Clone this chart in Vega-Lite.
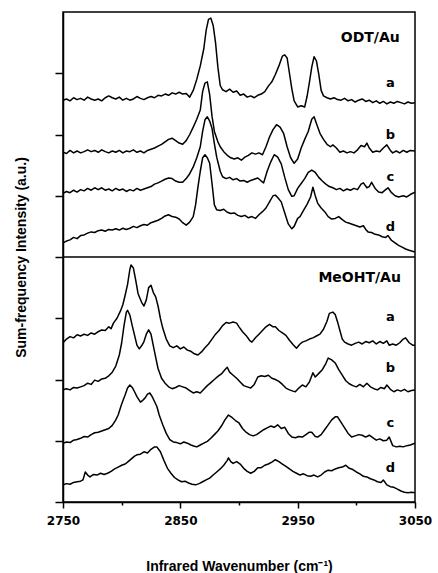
{
  "$schema": "https://vega.github.io/schema/vega-lite/v6.json",
  "width": 352,
  "height": 490,
  "autosize": "none",
  "padding": {"left": 63, "top": 12, "right": 23, "bottom": 71},
  "background": "white",
  "config": {
    "view": {"stroke": "black", "strokeWidth": 1.5},
    "axis": {"domainColor": "black", "tickColor": "black", "domainWidth": 1.5, "tickWidth": 1.5, "grid": false, "labelColor": "black", "titleColor": "black"}
  },
  "datasets": {
    "spectra": [
{"s":"Ta","w":2750,"v":6.56},{"s":"Ta","w":2753,"v":6.58},{"s":"Ta","w":2756,"v":6.55},{"s":"Ta","w":2759,"v":6.6},{"s":"Ta","w":2762,"v":6.57},{"s":"Ta","w":2765,"v":6.59},{"s":"Ta","w":2768,"v":6.56},{"s":"Ta","w":2771,"v":6.61},{"s":"Ta","w":2774,"v":6.58},{"s":"Ta","w":2777,"v":6.56},{"s":"Ta","w":2780,"v":6.58},{"s":"Ta","w":2783,"v":6.55},{"s":"Ta","w":2786,"v":6.6},{"s":"Ta","w":2789,"v":6.63},{"s":"Ta","w":2792,"v":6.6},{"s":"Ta","w":2795,"v":6.58},{"s":"Ta","w":2798,"v":6.61},{"s":"Ta","w":2801,"v":6.56},{"s":"Ta","w":2804,"v":6.59},{"s":"Ta","w":2807,"v":6.56},{"s":"Ta","w":2810,"v":6.58},{"s":"Ta","w":2813,"v":6.62},{"s":"Ta","w":2816,"v":6.59},{"s":"Ta","w":2819,"v":6.57},{"s":"Ta","w":2822,"v":6.6},{"s":"Ta","w":2825,"v":6.62},{"s":"Ta","w":2828,"v":6.6},{"s":"Ta","w":2831,"v":6.64},{"s":"Ta","w":2834,"v":6.63},{"s":"Ta","w":2837,"v":6.66},{"s":"Ta","w":2840,"v":6.64},{"s":"Ta","w":2843,"v":6.68},{"s":"Ta","w":2846,"v":6.66},{"s":"Ta","w":2849,"v":6.69},{"s":"Ta","w":2852,"v":6.66},{"s":"Ta","w":2855,"v":6.67},{"s":"Ta","w":2858,"v":6.61},{"s":"Ta","w":2861,"v":6.72},{"s":"Ta","w":2864,"v":6.9},{"s":"Ta","w":2867,"v":7.12},{"s":"Ta","w":2870,"v":7.4},{"s":"Ta","w":2872,"v":7.7},{"s":"Ta","w":2874,"v":7.88},{"s":"Ta","w":2876,"v":7.9},{"s":"Ta","w":2878,"v":7.78},{"s":"Ta","w":2880,"v":7.5},{"s":"Ta","w":2882,"v":7.1},{"s":"Ta","w":2884,"v":6.8},{"s":"Ta","w":2886,"v":6.73},{"s":"Ta","w":2889,"v":6.7},{"s":"Ta","w":2892,"v":6.74},{"s":"Ta","w":2895,"v":6.69},{"s":"Ta","w":2898,"v":6.71},{"s":"Ta","w":2901,"v":6.64},{"s":"Ta","w":2904,"v":6.66},{"s":"Ta","w":2907,"v":6.61},{"s":"Ta","w":2910,"v":6.63},{"s":"Ta","w":2913,"v":6.6},{"s":"Ta","w":2916,"v":6.64},{"s":"Ta","w":2919,"v":6.66},{"s":"Ta","w":2922,"v":6.7},{"s":"Ta","w":2925,"v":6.79},{"s":"Ta","w":2928,"v":6.86},{"s":"Ta","w":2931,"v":6.98},{"s":"Ta","w":2934,"v":7.12},{"s":"Ta","w":2937,"v":7.28},{"s":"Ta","w":2939,"v":7.3},{"s":"Ta","w":2941,"v":7.25},{"s":"Ta","w":2943,"v":7.0},{"s":"Ta","w":2945,"v":6.75},{"s":"Ta","w":2947,"v":6.55},{"s":"Ta","w":2950,"v":6.45},{"s":"Ta","w":2953,"v":6.47},{"s":"Ta","w":2956,"v":6.45},{"s":"Ta","w":2958,"v":6.62},{"s":"Ta","w":2960,"v":6.85},{"s":"Ta","w":2962,"v":7.1},{"s":"Ta","w":2964,"v":7.27},{"s":"Ta","w":2966,"v":7.2},{"s":"Ta","w":2968,"v":6.98},{"s":"Ta","w":2970,"v":6.72},{"s":"Ta","w":2972,"v":6.63},{"s":"Ta","w":2975,"v":6.6},{"s":"Ta","w":2978,"v":6.58},{"s":"Ta","w":2981,"v":6.6},{"s":"Ta","w":2984,"v":6.57},{"s":"Ta","w":2987,"v":6.56},{"s":"Ta","w":2990,"v":6.59},{"s":"Ta","w":2993,"v":6.55},{"s":"Ta","w":2996,"v":6.57},{"s":"Ta","w":2999,"v":6.53},{"s":"Ta","w":3002,"v":6.56},{"s":"Ta","w":3005,"v":6.58},{"s":"Ta","w":3008,"v":6.54},{"s":"Ta","w":3011,"v":6.56},{"s":"Ta","w":3014,"v":6.52},{"s":"Ta","w":3017,"v":6.55},{"s":"Ta","w":3020,"v":6.51},{"s":"Ta","w":3023,"v":6.54},{"s":"Ta","w":3026,"v":6.5},{"s":"Ta","w":3029,"v":6.53},{"s":"Ta","w":3032,"v":6.51},{"s":"Ta","w":3035,"v":6.54},{"s":"Ta","w":3038,"v":6.52},{"s":"Ta","w":3041,"v":6.5},{"s":"Ta","w":3044,"v":6.53},{"s":"Ta","w":3047,"v":6.51},{"s":"Ta","w":3050,"v":6.52},
{"s":"Tb","w":2750,"v":5.71},{"s":"Tb","w":2753,"v":5.69},{"s":"Tb","w":2756,"v":5.74},{"s":"Tb","w":2759,"v":5.7},{"s":"Tb","w":2762,"v":5.73},{"s":"Tb","w":2765,"v":5.7},{"s":"Tb","w":2768,"v":5.72},{"s":"Tb","w":2771,"v":5.75},{"s":"Tb","w":2774,"v":5.72},{"s":"Tb","w":2777,"v":5.74},{"s":"Tb","w":2780,"v":5.71},{"s":"Tb","w":2783,"v":5.75},{"s":"Tb","w":2786,"v":5.72},{"s":"Tb","w":2789,"v":5.7},{"s":"Tb","w":2792,"v":5.73},{"s":"Tb","w":2795,"v":5.71},{"s":"Tb","w":2798,"v":5.74},{"s":"Tb","w":2801,"v":5.7},{"s":"Tb","w":2804,"v":5.73},{"s":"Tb","w":2807,"v":5.72},{"s":"Tb","w":2810,"v":5.75},{"s":"Tb","w":2813,"v":5.71},{"s":"Tb","w":2816,"v":5.73},{"s":"Tb","w":2819,"v":5.7},{"s":"Tb","w":2822,"v":5.74},{"s":"Tb","w":2825,"v":5.76},{"s":"Tb","w":2828,"v":5.78},{"s":"Tb","w":2831,"v":5.81},{"s":"Tb","w":2834,"v":5.84},{"s":"Tb","w":2837,"v":5.88},{"s":"Tb","w":2840,"v":5.92},{"s":"Tb","w":2843,"v":5.94},{"s":"Tb","w":2846,"v":5.9},{"s":"Tb","w":2849,"v":5.86},{"s":"Tb","w":2852,"v":5.84},{"s":"Tb","w":2855,"v":5.9},{"s":"Tb","w":2858,"v":6.0},{"s":"Tb","w":2861,"v":6.12},{"s":"Tb","w":2864,"v":6.25},{"s":"Tb","w":2867,"v":6.4},{"s":"Tb","w":2869,"v":6.7},{"s":"Tb","w":2871,"v":6.84},{"s":"Tb","w":2873,"v":6.86},{"s":"Tb","w":2875,"v":6.65},{"s":"Tb","w":2877,"v":6.3},{"s":"Tb","w":2879,"v":6.05},{"s":"Tb","w":2882,"v":5.88},{"s":"Tb","w":2884,"v":5.8},{"s":"Tb","w":2887,"v":5.72},{"s":"Tb","w":2890,"v":5.66},{"s":"Tb","w":2893,"v":5.62},{"s":"Tb","w":2896,"v":5.6},{"s":"Tb","w":2899,"v":5.62},{"s":"Tb","w":2902,"v":5.58},{"s":"Tb","w":2905,"v":5.63},{"s":"Tb","w":2908,"v":5.66},{"s":"Tb","w":2911,"v":5.7},{"s":"Tb","w":2914,"v":5.68},{"s":"Tb","w":2917,"v":5.7},{"s":"Tb","w":2920,"v":5.67},{"s":"Tb","w":2923,"v":5.8},{"s":"Tb","w":2926,"v":5.96},{"s":"Tb","w":2929,"v":6.08},{"s":"Tb","w":2932,"v":6.16},{"s":"Tb","w":2935,"v":6.12},{"s":"Tb","w":2938,"v":6.02},{"s":"Tb","w":2941,"v":5.8},{"s":"Tb","w":2944,"v":5.62},{"s":"Tb","w":2947,"v":5.53},{"s":"Tb","w":2950,"v":5.6},{"s":"Tb","w":2953,"v":5.78},{"s":"Tb","w":2956,"v":5.92},{"s":"Tb","w":2959,"v":6.05},{"s":"Tb","w":2962,"v":6.25},{"s":"Tb","w":2964,"v":6.29},{"s":"Tb","w":2966,"v":6.18},{"s":"Tb","w":2969,"v":6.02},{"s":"Tb","w":2972,"v":5.92},{"s":"Tb","w":2975,"v":5.84},{"s":"Tb","w":2978,"v":5.8},{"s":"Tb","w":2980,"v":5.83},{"s":"Tb","w":2983,"v":5.78},{"s":"Tb","w":2986,"v":5.71},{"s":"Tb","w":2989,"v":5.73},{"s":"Tb","w":2992,"v":5.7},{"s":"Tb","w":2995,"v":5.72},{"s":"Tb","w":2998,"v":5.7},{"s":"Tb","w":3001,"v":5.75},{"s":"Tb","w":3004,"v":5.82},{"s":"Tb","w":3007,"v":5.8},{"s":"Tb","w":3009,"v":5.86},{"s":"Tb","w":3011,"v":5.78},{"s":"Tb","w":3014,"v":5.71},{"s":"Tb","w":3017,"v":5.73},{"s":"Tb","w":3020,"v":5.72},{"s":"Tb","w":3023,"v":5.78},{"s":"Tb","w":3026,"v":5.83},{"s":"Tb","w":3029,"v":5.74},{"s":"Tb","w":3031,"v":5.7},{"s":"Tb","w":3034,"v":5.73},{"s":"Tb","w":3037,"v":5.7},{"s":"Tb","w":3040,"v":5.74},{"s":"Tb","w":3043,"v":5.71},{"s":"Tb","w":3046,"v":5.74},{"s":"Tb","w":3050,"v":5.73},
{"s":"Tc","w":2750,"v":5.04},{"s":"Tc","w":2753,"v":5.07},{"s":"Tc","w":2756,"v":5.05},{"s":"Tc","w":2759,"v":5.09},{"s":"Tc","w":2762,"v":5.06},{"s":"Tc","w":2765,"v":5.1},{"s":"Tc","w":2768,"v":5.08},{"s":"Tc","w":2771,"v":5.12},{"s":"Tc","w":2774,"v":5.09},{"s":"Tc","w":2777,"v":5.13},{"s":"Tc","w":2780,"v":5.1},{"s":"Tc","w":2783,"v":5.13},{"s":"Tc","w":2786,"v":5.09},{"s":"Tc","w":2789,"v":5.11},{"s":"Tc","w":2792,"v":5.08},{"s":"Tc","w":2795,"v":5.12},{"s":"Tc","w":2798,"v":5.09},{"s":"Tc","w":2801,"v":5.11},{"s":"Tc","w":2804,"v":5.07},{"s":"Tc","w":2807,"v":5.1},{"s":"Tc","w":2810,"v":5.08},{"s":"Tc","w":2813,"v":5.12},{"s":"Tc","w":2816,"v":5.09},{"s":"Tc","w":2819,"v":5.11},{"s":"Tc","w":2822,"v":5.13},{"s":"Tc","w":2825,"v":5.15},{"s":"Tc","w":2828,"v":5.19},{"s":"Tc","w":2831,"v":5.21},{"s":"Tc","w":2834,"v":5.24},{"s":"Tc","w":2837,"v":5.27},{"s":"Tc","w":2840,"v":5.29},{"s":"Tc","w":2843,"v":5.28},{"s":"Tc","w":2846,"v":5.24},{"s":"Tc","w":2849,"v":5.22},{"s":"Tc","w":2852,"v":5.22},{"s":"Tc","w":2855,"v":5.28},{"s":"Tc","w":2858,"v":5.36},{"s":"Tc","w":2861,"v":5.47},{"s":"Tc","w":2864,"v":5.62},{"s":"Tc","w":2867,"v":5.8},{"s":"Tc","w":2869,"v":6.05},{"s":"Tc","w":2871,"v":6.24},{"s":"Tc","w":2873,"v":6.29},{"s":"Tc","w":2875,"v":6.22},{"s":"Tc","w":2877,"v":6.1},{"s":"Tc","w":2879,"v":5.85},{"s":"Tc","w":2881,"v":5.63},{"s":"Tc","w":2884,"v":5.4},{"s":"Tc","w":2886,"v":5.31},{"s":"Tc","w":2889,"v":5.28},{"s":"Tc","w":2892,"v":5.3},{"s":"Tc","w":2895,"v":5.26},{"s":"Tc","w":2898,"v":5.28},{"s":"Tc","w":2901,"v":5.24},{"s":"Tc","w":2904,"v":5.25},{"s":"Tc","w":2907,"v":5.22},{"s":"Tc","w":2910,"v":5.25},{"s":"Tc","w":2913,"v":5.27},{"s":"Tc","w":2916,"v":5.29},{"s":"Tc","w":2919,"v":5.24},{"s":"Tc","w":2921,"v":5.21},{"s":"Tc","w":2924,"v":5.4},{"s":"Tc","w":2927,"v":5.55},{"s":"Tc","w":2930,"v":5.67},{"s":"Tc","w":2933,"v":5.63},{"s":"Tc","w":2936,"v":5.52},{"s":"Tc","w":2939,"v":5.3},{"s":"Tc","w":2942,"v":5.1},{"s":"Tc","w":2945,"v":4.99},{"s":"Tc","w":2947,"v":5.0},{"s":"Tc","w":2950,"v":5.12},{"s":"Tc","w":2953,"v":5.2},{"s":"Tc","w":2956,"v":5.28},{"s":"Tc","w":2959,"v":5.38},{"s":"Tc","w":2962,"v":5.42},{"s":"Tc","w":2965,"v":5.38},{"s":"Tc","w":2968,"v":5.3},{"s":"Tc","w":2971,"v":5.24},{"s":"Tc","w":2974,"v":5.19},{"s":"Tc","w":2977,"v":5.15},{"s":"Tc","w":2980,"v":5.13},{"s":"Tc","w":2983,"v":5.1},{"s":"Tc","w":2986,"v":5.12},{"s":"Tc","w":2989,"v":5.08},{"s":"Tc","w":2992,"v":5.11},{"s":"Tc","w":2995,"v":5.09},{"s":"Tc","w":2998,"v":5.12},{"s":"Tc","w":3001,"v":5.1},{"s":"Tc","w":3004,"v":5.19},{"s":"Tc","w":3006,"v":5.21},{"s":"Tc","w":3009,"v":5.13},{"s":"Tc","w":3011,"v":5.15},{"s":"Tc","w":3013,"v":5.22},{"s":"Tc","w":3016,"v":5.12},{"s":"Tc","w":3019,"v":5.06},{"s":"Tc","w":3022,"v":5.05},{"s":"Tc","w":3025,"v":5.1},{"s":"Tc","w":3027,"v":5.13},{"s":"Tc","w":3030,"v":5.05},{"s":"Tc","w":3033,"v":5.0},{"s":"Tc","w":3036,"v":4.98},{"s":"Tc","w":3040,"v":5.0},{"s":"Tc","w":3043,"v":4.98},{"s":"Tc","w":3046,"v":5.02},{"s":"Tc","w":3050,"v":5.06},
{"s":"Td","w":2750,"v":4.23},{"s":"Td","w":2753,"v":4.26},{"s":"Td","w":2756,"v":4.28},{"s":"Td","w":2759,"v":4.32},{"s":"Td","w":2762,"v":4.3},{"s":"Td","w":2765,"v":4.35},{"s":"Td","w":2768,"v":4.36},{"s":"Td","w":2771,"v":4.39},{"s":"Td","w":2774,"v":4.41},{"s":"Td","w":2777,"v":4.4},{"s":"Td","w":2780,"v":4.43},{"s":"Td","w":2783,"v":4.44},{"s":"Td","w":2786,"v":4.42},{"s":"Td","w":2789,"v":4.45},{"s":"Td","w":2792,"v":4.44},{"s":"Td","w":2795,"v":4.46},{"s":"Td","w":2798,"v":4.44},{"s":"Td","w":2801,"v":4.47},{"s":"Td","w":2804,"v":4.45},{"s":"Td","w":2807,"v":4.47},{"s":"Td","w":2810,"v":4.5},{"s":"Td","w":2813,"v":4.48},{"s":"Td","w":2816,"v":4.51},{"s":"Td","w":2819,"v":4.53},{"s":"Td","w":2822,"v":4.52},{"s":"Td","w":2825,"v":4.56},{"s":"Td","w":2828,"v":4.58},{"s":"Td","w":2831,"v":4.6},{"s":"Td","w":2834,"v":4.63},{"s":"Td","w":2837,"v":4.67},{"s":"Td","w":2840,"v":4.69},{"s":"Td","w":2843,"v":4.66},{"s":"Td","w":2846,"v":4.65},{"s":"Td","w":2849,"v":4.62},{"s":"Td","w":2852,"v":4.56},{"s":"Td","w":2855,"v":4.52},{"s":"Td","w":2858,"v":4.57},{"s":"Td","w":2861,"v":4.66},{"s":"Td","w":2863,"v":4.85},{"s":"Td","w":2865,"v":5.14},{"s":"Td","w":2867,"v":5.4},{"s":"Td","w":2869,"v":5.62},{"s":"Td","w":2871,"v":5.67},{"s":"Td","w":2873,"v":5.62},{"s":"Td","w":2875,"v":5.53},{"s":"Td","w":2877,"v":5.2},{"s":"Td","w":2879,"v":4.85},{"s":"Td","w":2881,"v":4.77},{"s":"Td","w":2884,"v":4.76},{"s":"Td","w":2887,"v":4.78},{"s":"Td","w":2890,"v":4.73},{"s":"Td","w":2893,"v":4.71},{"s":"Td","w":2896,"v":4.72},{"s":"Td","w":2899,"v":4.68},{"s":"Td","w":2902,"v":4.66},{"s":"Td","w":2905,"v":4.68},{"s":"Td","w":2908,"v":4.64},{"s":"Td","w":2911,"v":4.66},{"s":"Td","w":2914,"v":4.63},{"s":"Td","w":2917,"v":4.69},{"s":"Td","w":2920,"v":4.74},{"s":"Td","w":2923,"v":4.8},{"s":"Td","w":2926,"v":4.9},{"s":"Td","w":2929,"v":5.0},{"s":"Td","w":2931,"v":5.01},{"s":"Td","w":2933,"v":4.97},{"s":"Td","w":2936,"v":4.9},{"s":"Td","w":2939,"v":4.72},{"s":"Td","w":2942,"v":4.54},{"s":"Td","w":2945,"v":4.46},{"s":"Td","w":2947,"v":4.5},{"s":"Td","w":2950,"v":4.63},{"s":"Td","w":2952,"v":4.66},{"s":"Td","w":2955,"v":4.76},{"s":"Td","w":2958,"v":4.86},{"s":"Td","w":2961,"v":4.98},{"s":"Td","w":2963,"v":5.14},{"s":"Td","w":2965,"v":5.0},{"s":"Td","w":2967,"v":4.88},{"s":"Td","w":2970,"v":4.8},{"s":"Td","w":2973,"v":4.74},{"s":"Td","w":2976,"v":4.66},{"s":"Td","w":2979,"v":4.62},{"s":"Td","w":2982,"v":4.63},{"s":"Td","w":2985,"v":4.66},{"s":"Td","w":2988,"v":4.61},{"s":"Td","w":2991,"v":4.57},{"s":"Td","w":2994,"v":4.55},{"s":"Td","w":2997,"v":4.53},{"s":"Td","w":3000,"v":4.51},{"s":"Td","w":3003,"v":4.49},{"s":"Td","w":3006,"v":4.51},{"s":"Td","w":3008,"v":4.45},{"s":"Td","w":3010,"v":4.41},{"s":"Td","w":3013,"v":4.4},{"s":"Td","w":3016,"v":4.37},{"s":"Td","w":3019,"v":4.36},{"s":"Td","w":3022,"v":4.33},{"s":"Td","w":3025,"v":4.32},{"s":"Td","w":3027,"v":4.35},{"s":"Td","w":3030,"v":4.27},{"s":"Td","w":3033,"v":4.23},{"s":"Td","w":3036,"v":4.19},{"s":"Td","w":3039,"v":4.16},{"s":"Td","w":3042,"v":4.13},{"s":"Td","w":3045,"v":4.11},{"s":"Td","w":3050,"v":4.08},
{"s":"Ma","w":2750,"v":2.6},{"s":"Ma","w":2753,"v":2.66},{"s":"Ma","w":2756,"v":2.7},{"s":"Ma","w":2759,"v":2.68},{"s":"Ma","w":2762,"v":2.73},{"s":"Ma","w":2765,"v":2.71},{"s":"Ma","w":2768,"v":2.74},{"s":"Ma","w":2771,"v":2.72},{"s":"Ma","w":2774,"v":2.76},{"s":"Ma","w":2777,"v":2.74},{"s":"Ma","w":2780,"v":2.78},{"s":"Ma","w":2783,"v":2.81},{"s":"Ma","w":2786,"v":2.8},{"s":"Ma","w":2789,"v":2.86},{"s":"Ma","w":2791,"v":2.83},{"s":"Ma","w":2793,"v":2.92},{"s":"Ma","w":2796,"v":3.0},{"s":"Ma","w":2799,"v":3.12},{"s":"Ma","w":2801,"v":3.22},{"s":"Ma","w":2803,"v":3.38},{"s":"Ma","w":2805,"v":3.55},{"s":"Ma","w":2807,"v":3.8},{"s":"Ma","w":2808,"v":3.87},{"s":"Ma","w":2810,"v":3.82},{"s":"Ma","w":2812,"v":3.62},{"s":"Ma","w":2814,"v":3.4},{"s":"Ma","w":2817,"v":3.26},{"s":"Ma","w":2819,"v":3.2},{"s":"Ma","w":2821,"v":3.3},{"s":"Ma","w":2823,"v":3.5},{"s":"Ma","w":2825,"v":3.54},{"s":"Ma","w":2827,"v":3.42},{"s":"Ma","w":2829,"v":3.35},{"s":"Ma","w":2831,"v":3.2},{"s":"Ma","w":2833,"v":3.0},{"s":"Ma","w":2835,"v":2.84},{"s":"Ma","w":2838,"v":2.66},{"s":"Ma","w":2841,"v":2.55},{"s":"Ma","w":2844,"v":2.52},{"s":"Ma","w":2847,"v":2.55},{"s":"Ma","w":2850,"v":2.5},{"s":"Ma","w":2853,"v":2.53},{"s":"Ma","w":2856,"v":2.48},{"s":"Ma","w":2859,"v":2.46},{"s":"Ma","w":2862,"v":2.42},{"s":"Ma","w":2865,"v":2.4},{"s":"Ma","w":2868,"v":2.45},{"s":"Ma","w":2871,"v":2.52},{"s":"Ma","w":2874,"v":2.58},{"s":"Ma","w":2877,"v":2.66},{"s":"Ma","w":2880,"v":2.74},{"s":"Ma","w":2883,"v":2.8},{"s":"Ma","w":2886,"v":2.88},{"s":"Ma","w":2889,"v":2.93},{"s":"Ma","w":2892,"v":2.92},{"s":"Ma","w":2895,"v":2.94},{"s":"Ma","w":2898,"v":2.92},{"s":"Ma","w":2900,"v":2.86},{"s":"Ma","w":2903,"v":2.78},{"s":"Ma","w":2906,"v":2.72},{"s":"Ma","w":2909,"v":2.64},{"s":"Ma","w":2911,"v":2.61},{"s":"Ma","w":2914,"v":2.68},{"s":"Ma","w":2917,"v":2.74},{"s":"Ma","w":2920,"v":2.8},{"s":"Ma","w":2923,"v":2.86},{"s":"Ma","w":2926,"v":2.9},{"s":"Ma","w":2929,"v":2.86},{"s":"Ma","w":2931,"v":2.86},{"s":"Ma","w":2934,"v":2.8},{"s":"Ma","w":2937,"v":2.76},{"s":"Ma","w":2940,"v":2.72},{"s":"Ma","w":2943,"v":2.64},{"s":"Ma","w":2946,"v":2.57},{"s":"Ma","w":2949,"v":2.51},{"s":"Ma","w":2952,"v":2.58},{"s":"Ma","w":2954,"v":2.61},{"s":"Ma","w":2957,"v":2.63},{"s":"Ma","w":2960,"v":2.66},{"s":"Ma","w":2963,"v":2.68},{"s":"Ma","w":2966,"v":2.71},{"s":"Ma","w":2969,"v":2.74},{"s":"Ma","w":2972,"v":2.82},{"s":"Ma","w":2975,"v":2.95},{"s":"Ma","w":2977,"v":3.08},{"s":"Ma","w":2980,"v":3.1},{"s":"Ma","w":2982,"v":3.06},{"s":"Ma","w":2984,"v":2.94},{"s":"Ma","w":2986,"v":2.8},{"s":"Ma","w":2988,"v":2.66},{"s":"Ma","w":2990,"v":2.61},{"s":"Ma","w":2993,"v":2.58},{"s":"Ma","w":2996,"v":2.56},{"s":"Ma","w":2999,"v":2.59},{"s":"Ma","w":3002,"v":2.61},{"s":"Ma","w":3005,"v":2.58},{"s":"Ma","w":3008,"v":2.62},{"s":"Ma","w":3011,"v":2.6},{"s":"Ma","w":3014,"v":2.63},{"s":"Ma","w":3017,"v":2.58},{"s":"Ma","w":3020,"v":2.62},{"s":"Ma","w":3023,"v":2.59},{"s":"Ma","w":3026,"v":2.63},{"s":"Ma","w":3028,"v":2.56},{"s":"Ma","w":3031,"v":2.58},{"s":"Ma","w":3034,"v":2.56},{"s":"Ma","w":3037,"v":2.6},{"s":"Ma","w":3040,"v":2.66},{"s":"Ma","w":3042,"v":2.68},{"s":"Ma","w":3045,"v":2.6},{"s":"Ma","w":3048,"v":2.56},{"s":"Ma","w":3050,"v":2.56},
{"s":"Mb","w":2750,"v":1.83},{"s":"Mb","w":2753,"v":1.85},{"s":"Mb","w":2756,"v":1.83},{"s":"Mb","w":2759,"v":1.87},{"s":"Mb","w":2762,"v":1.86},{"s":"Mb","w":2765,"v":1.88},{"s":"Mb","w":2768,"v":1.9},{"s":"Mb","w":2771,"v":1.94},{"s":"Mb","w":2774,"v":1.92},{"s":"Mb","w":2777,"v":1.99},{"s":"Mb","w":2780,"v":1.97},{"s":"Mb","w":2783,"v":2.01},{"s":"Mb","w":2786,"v":2.02},{"s":"Mb","w":2789,"v":2.06},{"s":"Mb","w":2792,"v":2.12},{"s":"Mb","w":2795,"v":2.22},{"s":"Mb","w":2798,"v":2.4},{"s":"Mb","w":2800,"v":2.6},{"s":"Mb","w":2802,"v":2.88},{"s":"Mb","w":2804,"v":3.1},{"s":"Mb","w":2805,"v":3.13},{"s":"Mb","w":2807,"v":3.05},{"s":"Mb","w":2809,"v":2.88},{"s":"Mb","w":2811,"v":2.72},{"s":"Mb","w":2813,"v":2.56},{"s":"Mb","w":2815,"v":2.5},{"s":"Mb","w":2817,"v":2.55},{"s":"Mb","w":2819,"v":2.62},{"s":"Mb","w":2821,"v":2.74},{"s":"Mb","w":2823,"v":2.81},{"s":"Mb","w":2825,"v":2.74},{"s":"Mb","w":2827,"v":2.55},{"s":"Mb","w":2829,"v":2.36},{"s":"Mb","w":2831,"v":2.18},{"s":"Mb","w":2834,"v":2.02},{"s":"Mb","w":2837,"v":1.94},{"s":"Mb","w":2840,"v":1.88},{"s":"Mb","w":2843,"v":1.85},{"s":"Mb","w":2846,"v":1.87},{"s":"Mb","w":2849,"v":1.9},{"s":"Mb","w":2852,"v":1.88},{"s":"Mb","w":2855,"v":1.86},{"s":"Mb","w":2858,"v":1.82},{"s":"Mb","w":2861,"v":1.78},{"s":"Mb","w":2864,"v":1.8},{"s":"Mb","w":2867,"v":1.78},{"s":"Mb","w":2870,"v":1.84},{"s":"Mb","w":2873,"v":1.9},{"s":"Mb","w":2876,"v":1.95},{"s":"Mb","w":2879,"v":2.0},{"s":"Mb","w":2882,"v":2.05},{"s":"Mb","w":2885,"v":2.09},{"s":"Mb","w":2888,"v":2.16},{"s":"Mb","w":2890,"v":2.2},{"s":"Mb","w":2892,"v":2.12},{"s":"Mb","w":2895,"v":2.07},{"s":"Mb","w":2898,"v":2.02},{"s":"Mb","w":2901,"v":1.96},{"s":"Mb","w":2904,"v":1.9},{"s":"Mb","w":2907,"v":1.88},{"s":"Mb","w":2910,"v":1.86},{"s":"Mb","w":2913,"v":1.92},{"s":"Mb","w":2916,"v":2.04},{"s":"Mb","w":2919,"v":2.06},{"s":"Mb","w":2922,"v":2.05},{"s":"Mb","w":2925,"v":2.07},{"s":"Mb","w":2928,"v":2.02},{"s":"Mb","w":2931,"v":2.0},{"s":"Mb","w":2934,"v":1.97},{"s":"Mb","w":2937,"v":1.92},{"s":"Mb","w":2940,"v":1.86},{"s":"Mb","w":2943,"v":1.83},{"s":"Mb","w":2946,"v":1.81},{"s":"Mb","w":2948,"v":1.8},{"s":"Mb","w":2951,"v":1.86},{"s":"Mb","w":2954,"v":1.91},{"s":"Mb","w":2957,"v":1.88},{"s":"Mb","w":2960,"v":1.96},{"s":"Mb","w":2963,"v":2.11},{"s":"Mb","w":2965,"v":2.04},{"s":"Mb","w":2968,"v":2.1},{"s":"Mb","w":2971,"v":2.16},{"s":"Mb","w":2974,"v":2.26},{"s":"Mb","w":2976,"v":2.35},{"s":"Mb","w":2979,"v":2.32},{"s":"Mb","w":2982,"v":2.27},{"s":"Mb","w":2985,"v":2.16},{"s":"Mb","w":2988,"v":2.07},{"s":"Mb","w":2991,"v":1.98},{"s":"Mb","w":2994,"v":1.93},{"s":"Mb","w":2997,"v":1.9},{"s":"Mb","w":3000,"v":1.88},{"s":"Mb","w":3003,"v":1.92},{"s":"Mb","w":3006,"v":1.88},{"s":"Mb","w":3009,"v":1.94},{"s":"Mb","w":3012,"v":1.88},{"s":"Mb","w":3015,"v":1.85},{"s":"Mb","w":3018,"v":1.83},{"s":"Mb","w":3021,"v":1.87},{"s":"Mb","w":3024,"v":1.85},{"s":"Mb","w":3026,"v":1.91},{"s":"Mb","w":3029,"v":1.84},{"s":"Mb","w":3032,"v":1.8},{"s":"Mb","w":3035,"v":1.83},{"s":"Mb","w":3038,"v":1.81},{"s":"Mb","w":3041,"v":1.84},{"s":"Mb","w":3044,"v":1.8},{"s":"Mb","w":3047,"v":1.82},{"s":"Mb","w":3050,"v":1.83},
{"s":"Mc","w":2750,"v":0.96},{"s":"Mc","w":2753,"v":0.98},{"s":"Mc","w":2756,"v":0.97},{"s":"Mc","w":2759,"v":1.01},{"s":"Mc","w":2762,"v":1.02},{"s":"Mc","w":2765,"v":1.04},{"s":"Mc","w":2768,"v":1.07},{"s":"Mc","w":2771,"v":1.06},{"s":"Mc","w":2774,"v":1.1},{"s":"Mc","w":2777,"v":1.13},{"s":"Mc","w":2780,"v":1.14},{"s":"Mc","w":2783,"v":1.16},{"s":"Mc","w":2786,"v":1.18},{"s":"Mc","w":2789,"v":1.2},{"s":"Mc","w":2792,"v":1.25},{"s":"Mc","w":2795,"v":1.34},{"s":"Mc","w":2797,"v":1.42},{"s":"Mc","w":2800,"v":1.6},{"s":"Mc","w":2803,"v":1.75},{"s":"Mc","w":2805,"v":1.86},{"s":"Mc","w":2807,"v":1.91},{"s":"Mc","w":2809,"v":1.87},{"s":"Mc","w":2811,"v":1.8},{"s":"Mc","w":2813,"v":1.72},{"s":"Mc","w":2816,"v":1.63},{"s":"Mc","w":2818,"v":1.66},{"s":"Mc","w":2820,"v":1.7},{"s":"Mc","w":2822,"v":1.76},{"s":"Mc","w":2824,"v":1.78},{"s":"Mc","w":2826,"v":1.72},{"s":"Mc","w":2828,"v":1.64},{"s":"Mc","w":2830,"v":1.56},{"s":"Mc","w":2832,"v":1.42},{"s":"Mc","w":2835,"v":1.26},{"s":"Mc","w":2838,"v":1.12},{"s":"Mc","w":2841,"v":1.02},{"s":"Mc","w":2844,"v":0.98},{"s":"Mc","w":2847,"v":0.97},{"s":"Mc","w":2850,"v":0.95},{"s":"Mc","w":2853,"v":0.98},{"s":"Mc","w":2856,"v":0.96},{"s":"Mc","w":2859,"v":0.93},{"s":"Mc","w":2862,"v":0.91},{"s":"Mc","w":2864,"v":0.9},{"s":"Mc","w":2867,"v":0.93},{"s":"Mc","w":2870,"v":0.96},{"s":"Mc","w":2873,"v":0.99},{"s":"Mc","w":2876,"v":1.04},{"s":"Mc","w":2879,"v":1.1},{"s":"Mc","w":2882,"v":1.16},{"s":"Mc","w":2885,"v":1.24},{"s":"Mc","w":2888,"v":1.34},{"s":"Mc","w":2891,"v":1.42},{"s":"Mc","w":2894,"v":1.38},{"s":"Mc","w":2897,"v":1.33},{"s":"Mc","w":2900,"v":1.29},{"s":"Mc","w":2903,"v":1.2},{"s":"Mc","w":2906,"v":1.14},{"s":"Mc","w":2909,"v":1.1},{"s":"Mc","w":2912,"v":1.08},{"s":"Mc","w":2915,"v":1.1},{"s":"Mc","w":2918,"v":1.14},{"s":"Mc","w":2921,"v":1.18},{"s":"Mc","w":2924,"v":1.21},{"s":"Mc","w":2927,"v":1.24},{"s":"Mc","w":2930,"v":1.22},{"s":"Mc","w":2933,"v":1.26},{"s":"Mc","w":2936,"v":1.2},{"s":"Mc","w":2939,"v":1.22},{"s":"Mc","w":2942,"v":1.12},{"s":"Mc","w":2945,"v":1.06},{"s":"Mc","w":2948,"v":1.05},{"s":"Mc","w":2951,"v":1.07},{"s":"Mc","w":2954,"v":1.06},{"s":"Mc","w":2957,"v":1.1},{"s":"Mc","w":2960,"v":1.14},{"s":"Mc","w":2962,"v":1.14},{"s":"Mc","w":2965,"v":1.07},{"s":"Mc","w":2967,"v":1.06},{"s":"Mc","w":2970,"v":1.1},{"s":"Mc","w":2973,"v":1.18},{"s":"Mc","w":2976,"v":1.26},{"s":"Mc","w":2979,"v":1.34},{"s":"Mc","w":2982,"v":1.39},{"s":"Mc","w":2984,"v":1.39},{"s":"Mc","w":2987,"v":1.3},{"s":"Mc","w":2990,"v":1.21},{"s":"Mc","w":2993,"v":1.12},{"s":"Mc","w":2996,"v":1.06},{"s":"Mc","w":2999,"v":1.08},{"s":"Mc","w":3002,"v":1.1},{"s":"Mc","w":3005,"v":1.09},{"s":"Mc","w":3008,"v":1.06},{"s":"Mc","w":3011,"v":1.09},{"s":"Mc","w":3014,"v":1.05},{"s":"Mc","w":3017,"v":1.01},{"s":"Mc","w":3020,"v":1.03},{"s":"Mc","w":3023,"v":1.0},{"s":"Mc","w":3026,"v":1.01},{"s":"Mc","w":3028,"v":1.06},{"s":"Mc","w":3031,"v":0.92},{"s":"Mc","w":3034,"v":0.9},{"s":"Mc","w":3037,"v":0.91},{"s":"Mc","w":3040,"v":0.9},{"s":"Mc","w":3043,"v":0.92},{"s":"Mc","w":3046,"v":0.93},{"s":"Mc","w":3050,"v":0.96},
{"s":"Md","w":2750,"v":0.28},{"s":"Md","w":2753,"v":0.3},{"s":"Md","w":2756,"v":0.29},{"s":"Md","w":2759,"v":0.32},{"s":"Md","w":2762,"v":0.33},{"s":"Md","w":2765,"v":0.34},{"s":"Md","w":2767,"v":0.36},{"s":"Md","w":2769,"v":0.49},{"s":"Md","w":2771,"v":0.44},{"s":"Md","w":2773,"v":0.41},{"s":"Md","w":2776,"v":0.45},{"s":"Md","w":2779,"v":0.44},{"s":"Md","w":2782,"v":0.47},{"s":"Md","w":2785,"v":0.45},{"s":"Md","w":2788,"v":0.47},{"s":"Md","w":2791,"v":0.5},{"s":"Md","w":2794,"v":0.54},{"s":"Md","w":2797,"v":0.57},{"s":"Md","w":2800,"v":0.6},{"s":"Md","w":2803,"v":0.62},{"s":"Md","w":2805,"v":0.65},{"s":"Md","w":2808,"v":0.7},{"s":"Md","w":2811,"v":0.75},{"s":"Md","w":2813,"v":0.77},{"s":"Md","w":2816,"v":0.78},{"s":"Md","w":2819,"v":0.82},{"s":"Md","w":2822,"v":0.8},{"s":"Md","w":2825,"v":0.86},{"s":"Md","w":2828,"v":0.9},{"s":"Md","w":2830,"v":0.9},{"s":"Md","w":2833,"v":0.82},{"s":"Md","w":2836,"v":0.68},{"s":"Md","w":2839,"v":0.55},{"s":"Md","w":2842,"v":0.47},{"s":"Md","w":2845,"v":0.4},{"s":"Md","w":2848,"v":0.36},{"s":"Md","w":2851,"v":0.33},{"s":"Md","w":2854,"v":0.34},{"s":"Md","w":2857,"v":0.31},{"s":"Md","w":2860,"v":0.29},{"s":"Md","w":2863,"v":0.28},{"s":"Md","w":2866,"v":0.3},{"s":"Md","w":2869,"v":0.33},{"s":"Md","w":2872,"v":0.36},{"s":"Md","w":2875,"v":0.39},{"s":"Md","w":2878,"v":0.44},{"s":"Md","w":2881,"v":0.49},{"s":"Md","w":2884,"v":0.54},{"s":"Md","w":2887,"v":0.6},{"s":"Md","w":2890,"v":0.68},{"s":"Md","w":2891,"v":0.72},{"s":"Md","w":2893,"v":0.66},{"s":"Md","w":2895,"v":0.63},{"s":"Md","w":2898,"v":0.66},{"s":"Md","w":2901,"v":0.62},{"s":"Md","w":2904,"v":0.55},{"s":"Md","w":2907,"v":0.5},{"s":"Md","w":2910,"v":0.47},{"s":"Md","w":2913,"v":0.5},{"s":"Md","w":2916,"v":0.56},{"s":"Md","w":2919,"v":0.56},{"s":"Md","w":2922,"v":0.6},{"s":"Md","w":2925,"v":0.62},{"s":"Md","w":2928,"v":0.65},{"s":"Md","w":2931,"v":0.69},{"s":"Md","w":2934,"v":0.66},{"s":"Md","w":2937,"v":0.62},{"s":"Md","w":2940,"v":0.58},{"s":"Md","w":2943,"v":0.54},{"s":"Md","w":2946,"v":0.5},{"s":"Md","w":2949,"v":0.47},{"s":"Md","w":2952,"v":0.44},{"s":"Md","w":2955,"v":0.46},{"s":"Md","w":2958,"v":0.43},{"s":"Md","w":2961,"v":0.42},{"s":"Md","w":2964,"v":0.44},{"s":"Md","w":2967,"v":0.41},{"s":"Md","w":2970,"v":0.44},{"s":"Md","w":2973,"v":0.49},{"s":"Md","w":2976,"v":0.52},{"s":"Md","w":2979,"v":0.51},{"s":"Md","w":2982,"v":0.54},{"s":"Md","w":2985,"v":0.56},{"s":"Md","w":2988,"v":0.57},{"s":"Md","w":2991,"v":0.6},{"s":"Md","w":2994,"v":0.55},{"s":"Md","w":2997,"v":0.53},{"s":"Md","w":3000,"v":0.49},{"s":"Md","w":3003,"v":0.46},{"s":"Md","w":3006,"v":0.42},{"s":"Md","w":3009,"v":0.41},{"s":"Md","w":3012,"v":0.38},{"s":"Md","w":3015,"v":0.36},{"s":"Md","w":3018,"v":0.33},{"s":"Md","w":3021,"v":0.32},{"s":"Md","w":3023,"v":0.36},{"s":"Md","w":3026,"v":0.28},{"s":"Md","w":3029,"v":0.25},{"s":"Md","w":3032,"v":0.24},{"s":"Md","w":3035,"v":0.21},{"s":"Md","w":3038,"v":0.18},{"s":"Md","w":3041,"v":0.16},{"s":"Md","w":3044,"v":0.15},{"s":"Md","w":3047,"v":0.16},{"s":"Md","w":3050,"v":0.15}
    ],
    "panels": [
      {"t":"ODT/Au","w":3037,"v":7.58},
      {"t":"MeOHT/Au","w":3038,"v":3.66}
    ],
    "letters": [
      {"t":"a","w":3029,"v":6.84},
      {"t":"b","w":3029,"v":5.99},
      {"t":"c","w":3029,"v":5.31},
      {"t":"d","w":3029,"v":4.49},
      {"t":"a","w":3029,"v":3.02},
      {"t":"b","w":3029,"v":2.19},
      {"t":"c","w":3029,"v":1.29},
      {"t":"d","w":3029,"v":0.56}
    ]
  },
  "resolve": {"axis": {"x": "independent"}},
  "layer": [
    {
      "data": {"name": "spectra"},
      "mark": {"type": "line", "color": "black", "strokeWidth": 1.5, "strokeJoin": "round", "clip": true},
      "encoding": {
        "x": {"field": "w", "type": "quantitative", "scale": {"domain": [2750, 3050], "nice": false, "zero": false},
          "axis": {"values": [2750, 2850, 2950, 3050], "format": "d", "tickSize": 6, "labelPadding": 7, "labelFont": "DejaVu Sans", "labelFontWeight": "bold", "labelFontSize": 12, "labelFlush": false, "labelOverlap": false, "labelBound": false,
            "title": "Infrared Wavenumber (cm⁻¹)", "titleFont": "Liberation Sans", "titleFontWeight": "bold", "titleFontSize": 14, "titlePadding": 33}},
        "y": {"field": "v", "type": "quantitative", "scale": {"domain": [0, 8], "nice": false, "zero": false},
          "axis": {"values": [0, 1, 2, 3, 4, 5, 6, 7], "tickSize": 8, "labels": false,
            "title": "Sum-frequency Intensity (a.u.)", "titleFont": "Liberation Sans", "titleFontWeight": "bold", "titleFontSize": 14, "titlePadding": 26}},
        "detail": {"field": "s"}
      }
    },
    {
      "data": {"values": [{"v": 4}]},
      "mark": {"type": "rule", "color": "black", "strokeWidth": 1.5},
      "encoding": {"y": {"field": "v", "type": "quantitative"}}
    },
    {
      "data": {"name": "panels"},
      "mark": {"type": "text", "font": "DejaVu Sans", "fontWeight": "bold", "fontSize": 14, "color": "black", "align": "right", "baseline": "middle"},
      "encoding": {
        "x": {"field": "w", "type": "quantitative",
          "axis": {"orient": "bottom", "values": [2800, 2900, 3000], "tickSize": 3, "labels": false, "domain": false, "title": null}},
        "y": {"field": "v", "type": "quantitative"},
        "text": {"field": "t"}
      }
    },
    {
      "data": {"name": "letters"},
      "mark": {"type": "text", "font": "DejaVu Sans", "fontWeight": "bold", "fontSize": 13, "color": "black", "align": "center", "baseline": "middle"},
      "encoding": {
        "x": {"field": "w", "type": "quantitative", "axis": null},
        "y": {"field": "v", "type": "quantitative"},
        "text": {"field": "t"}
      }
    }
  ]
}
